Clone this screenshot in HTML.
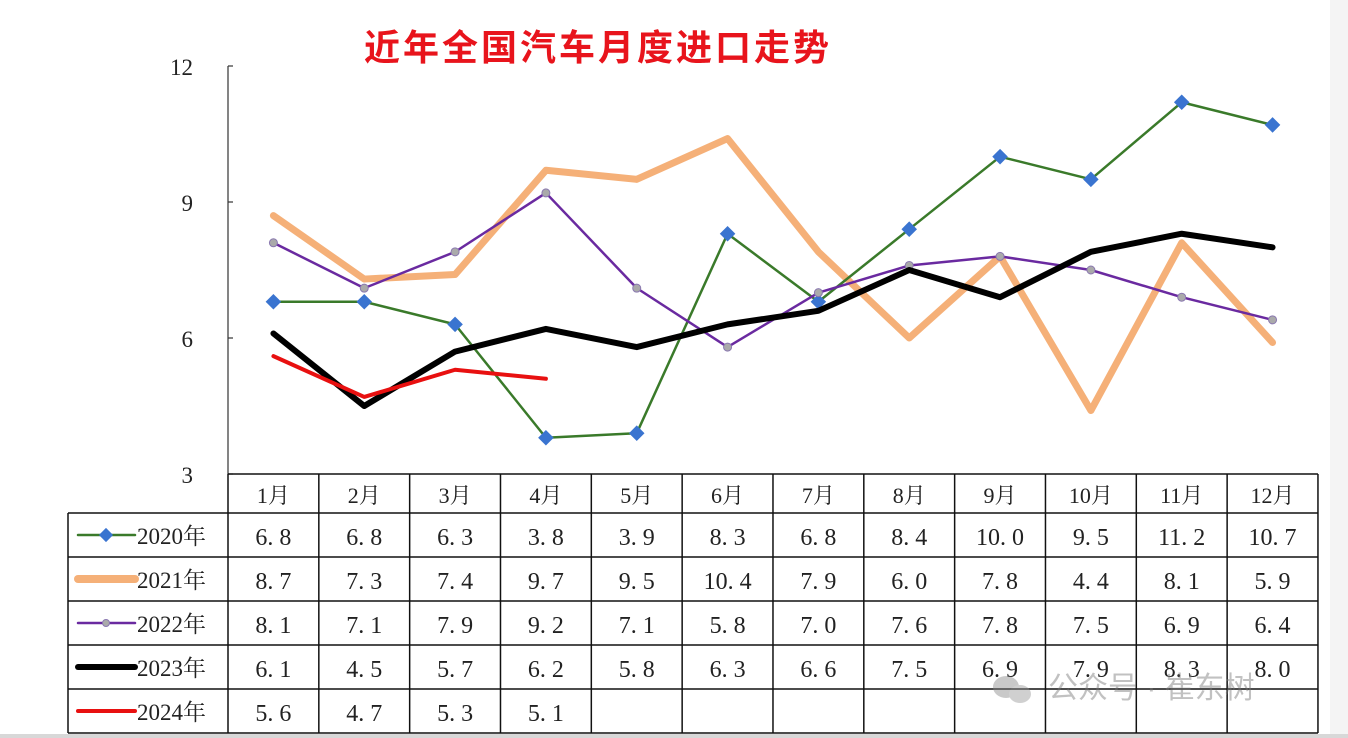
<!DOCTYPE html>
<html><head><meta charset="utf-8"><style>
html,body{margin:0;padding:0;background:#fff;}
body{width:1348px;height:738px;overflow:hidden;position:relative;}
svg{position:absolute;left:0;top:0;}
text{font-family:"Liberation Serif","Noto Serif CJK SC",serif;}
</style></head><body>
<svg id="chart" width="1348" height="738"></svg>
<script>
const months=["1月","2月","3月","4月","5月","6月","7月","8月","9月","10月","11月","12月"];
const yTicks=[12,9,6,3];
const seriesNames=["2020年","2021年","2022年","2023年","2024年"];
const v2020=[6.8,6.8,6.3,3.8,3.9,8.3,6.8,8.4,10.0,9.5,11.2,10.7];
const v2021=[8.7,7.3,7.4,9.7,9.5,10.4,7.9,6.0,7.8,4.4,8.1,5.9];
const v2022=[8.1,7.1,7.9,9.2,7.1,5.8,7.0,7.6,7.8,7.5,6.9,6.4];
const v2023=[6.1,4.5,5.7,6.2,5.8,6.3,6.6,7.5,6.9,7.9,8.3,8.0];
const v2024=[5.6,4.7,5.3,5.1];
const NS="http://www.w3.org/2000/svg";
const svg=document.getElementById('chart');
function mk(t,a,p){const e=document.createElementNS(NS,t);for(const k in a)e.setAttribute(k,a[k]);(p||svg).appendChild(e);return e;}
const x0=228,colW=90.83,yTop=66,yBot=474,vMin=3,vMax=12;
const X=i=>x0+colW*(i+0.5);
const Y=v=>yBot-(v-vMin)/(vMax-vMin)*(yBot-yTop);
// right gray strip
mk('rect',{x:1330,y:0,width:18,height:738,fill:'#f4f4f4'});
mk('rect',{x:0,y:734,width:1348,height:4,fill:'#d8d8d8'});
// title
let t=mk('text',{x:598,y:60,'text-anchor':'middle','font-size':'36','font-weight':'bold',fill:'#e8141c','letter-spacing':'3'});

t.style.fontFamily='"Liberation Sans","Noto Sans CJK SC",sans-serif';
t.textContent='近年全国汽车月度进口走势';
// y axis
let ax=mk('line',{x1:x0,y1:yTop,x2:x0,y2:yBot,stroke:'#333','stroke-width':1.2});

yTicks.forEach(v=>{
  mk('line',{x1:x0,y1:Y(v),x2:x0+5,y2:Y(v),stroke:'#333','stroke-width':1.2});
  const l=mk('text',{x:193,y:Y(v)+9,'text-anchor':'end','font-size':'23',fill:'#222'});
  
  l.textContent=v;
});
// series
const styles=[
 {d:v2020,c:'#3a7a2a',w:2.5,mark:'diamond'},
 {d:v2021,c:'#f5b078',w:7,mark:null},
 {d:v2022,c:'#6a2aa0',w:2.5,mark:'circle'},
 {d:v2023,c:'#000',w:6,mark:null},
 {d:v2024,c:'#e81010',w:4,mark:null}];
const order=[1,0,2,3,4];
order.forEach(si=>{
  const s=styles[si];
  const pts=s.d.map((v,i)=>X(i)+','+Y(v)).join(' ');
  const pl=mk('polyline',{points:pts,fill:'none',stroke:s.c,'stroke-width':s.w,'stroke-linejoin':'round','stroke-linecap':'round'});
  
  
  s.d.forEach((v,i)=>{
    if(s.mark==='diamond'){
      const m=mk('rect',{x:X(i)-5.5,y:Y(v)-5.5,width:11,height:11,fill:'#3a74d0',transform:`rotate(45 ${X(i)} ${Y(v)})`});
      
    } else if(s.mark==='circle'){
      const m=mk('circle',{cx:X(i),cy:Y(v),r:4,fill:'#aaa',stroke:'#8a78b0','stroke-width':1});
      
    }
  });
});
// table
const tL=68,hTop=474,hBot=513,rowH=44,tR=x0+colW*12;
const tbl=mk('g',{stroke:'#111','stroke-width':1.5,fill:'none'});

const tBot=hBot+rowH*5;
mk('line',{x1:x0,y1:hTop,x2:tR,y2:hTop},tbl);
for(let r=0;r<=5;r++)mk('line',{x1:tL,y1:hBot+r*rowH,x2:tR,y2:hBot+r*rowH},tbl);
mk('line',{x1:tL,y1:hBot,x2:tL,y2:tBot},tbl);
for(let c=0;c<=12;c++)mk('line',{x1:x0+c*colW,y1:hTop,x2:x0+c*colW,y2:tBot},tbl);
months.forEach((m,i)=>{
  const e=mk('text',{x:X(i),y:hTop+29,'text-anchor':'middle','font-size':'22',fill:'#222'});
  
  e.textContent=m;
});
const allData=[v2020,v2021,v2022,v2023,v2024];
allData.forEach((d,r)=>{
  const cy=hBot+r*rowH+rowH/2;
  const s=styles[r];
  const g=mk('g',{});
  
  mk('line',{x1:78,y1:cy,x2:135,y2:cy,stroke:s.c,'stroke-width':s.w+(r===1?1:0),'stroke-linecap':'round'},g);
  if(s.mark==='diamond')mk('rect',{x:101,y:cy-5,width:10,height:10,fill:'#3a74d0',transform:`rotate(45 106 ${cy})`},g);
  if(s.mark==='circle')mk('circle',{cx:106,cy:cy,r:3.5,fill:'#aaa',stroke:'#8a78b0'},g);
  const lt=mk('text',{x:137,y:cy+9,'font-size':'23',fill:'#222'},g);
  lt.textContent=seriesNames[r];
  d.forEach((v,i)=>{
    const e=mk('text',{x:X(i),y:cy+10,'text-anchor':'middle','font-size':'24',fill:'#222'});
    
    e.textContent=v.toFixed(1).replace('.','. ');
  });
});
// watermark
const wm=mk('g',{opacity:0.45});

mk('ellipse',{cx:1006,cy:687,rx:13,ry:11,fill:'#888'},wm);
mk('ellipse',{cx:1020,cy:694,rx:11,ry:9,fill:'#999'},wm);
const wt=mk('text',{x:1048,y:698,'font-size':'30',fill:'#777'},wm);
wt.style.fontFamily='"Liberation Sans","Noto Sans CJK SC",sans-serif';
wt.textContent='公众号 · 崔东树';
</script>
</body></html>
